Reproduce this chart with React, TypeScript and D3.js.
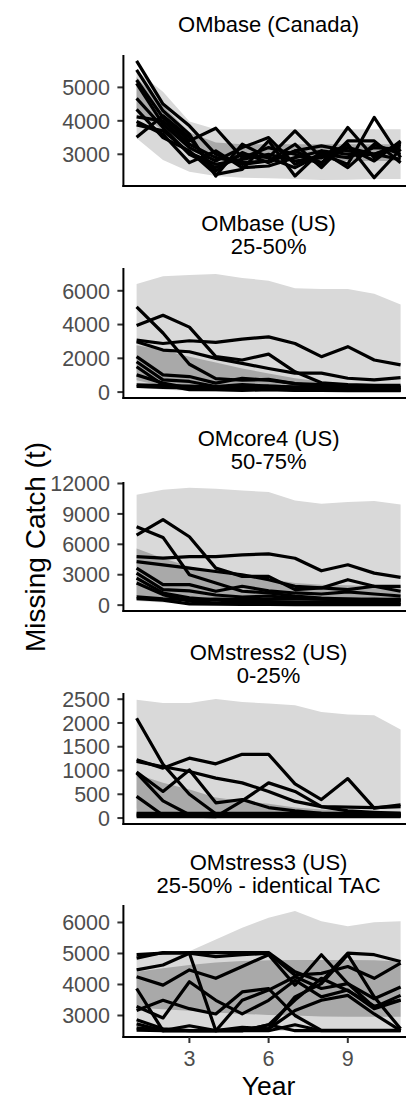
import React from 'react';
import * as d3 from 'd3';

const years = [1, 2, 3, 4, 5, 6, 7, 8, 9, 10, 11];

const titles = [
  ['OMbase (Canada)'],
  ['OMbase (US)', '25-50%'],
  ['OMcore4 (US)', '50-75%'],
  ['OMstress2 (US)', '0-25%'],
  ['OMstress3 (US)', '25-50% - identical TAC'],
];

const yTicks = [
  [3000, 4000, 5000],
  [0, 2000, 4000, 6000],
  [0, 3000, 6000, 9000, 12000],
  [0, 500, 1000, 1500, 2000, 2500],
  [3000, 4000, 5000, 6000],
];

const xTicks = [3, 6, 9];

// OMbase (Canada)
const canOuterHi = [5500, 4870, 3980, 3750, 3750, 3750, 3750, 3750, 3750, 3750, 3750];
const canOuterLo = [3480, 2830, 2480, 2350, 2300, 2280, 2260, 2230, 2240, 2260, 2260];
const canInnerHi = [5300, 4450, 3650, 3350, 3300, 3300, 3300, 3300, 3300, 3300, 3300];
const canInnerLo = [4300, 3700, 3100, 2850, 2800, 2800, 2800, 2800, 2800, 2800, 2800];
const canLines = [
  [5790, 4500, 3850, 3000, 2700, 2800, 3100, 2750, 3200, 3000, 3300],
  [5520, 4300, 3600, 2350, 3300, 2900, 2600, 3000, 2900, 3200, 3150],
  [5220, 4100, 3400, 3780, 2900, 3200, 3000, 2700, 3800, 2900, 3350],
  [5120, 3900, 3200, 2800, 3200, 3500, 2700, 3000, 2700, 4100, 2900],
  [4670, 3800, 3000, 2600, 3000, 2900, 3700, 2900, 3300, 2300, 3150],
  [4340, 3500, 3100, 2400, 2550, 3400, 2350, 3100, 2600, 3300, 3000],
  [4120, 4000, 3300, 2900, 2750, 2800, 3300, 2600, 3400, 3400, 2750],
  [3980, 3600, 2750, 3100, 2600, 2650, 2900, 3100, 3000, 3000, 3250],
  [3880, 3700, 3050, 2700, 2850, 3000, 2800, 2900, 3200, 2800, 3400],
  [3510, 4150, 3500, 2500, 3050, 2750, 3100, 3250, 3100, 3000, 2850],
];

// OMbase (US)
const usOuterHi = [6400, 6860, 6940, 7000, 6760, 6600, 6150, 6110, 6110, 5820, 5190];
const usOuterLo = [250, 150, 60, 20, 0, 0, 0, 0, 0, 0, 0];
const usInnerHi = [2780, 2500, 2100, 1750, 1400, 1100, 820, 630, 500, 420, 380];
const usInnerLo = [700, 350, 200, 150, 120, 100, 100, 80, 80, 80, 80];
const usLines = [
  [5050, 3500, 1650, 800, 700, 750, 500, 300, 250, 250, 300],
  [3950, 4550, 3850, 2100, 1900, 2250, 1200, 550, 450, 400, 400],
  [3080, 2880, 3040, 2940, 3140, 3270, 2880, 2100, 2690, 1900, 1610],
  [2980, 2490, 2390, 2000, 1700, 1400, 1120, 1120, 820, 720, 860],
  [2100, 1020, 920, 530, 820, 700, 500, 450, 350, 300, 250],
  [1800, 720, 630, 330, 450, 350, 300, 250, 200, 200, 150],
  [1500, 430, 140, 150, 100, 150, 100, 100, 80, 100, 80],
  [1020, 530, 240, 200, 250, 200, 150, 100, 100, 100, 100],
  [430, 390, 350, 300, 300, 350, 300, 280, 300, 280, 300],
  [330, 280, 250, 200, 200, 180, 150, 150, 150, 120, 120],
];

// OMcore4 (US)
const coreOuterHi = [10900, 11380, 11570, 11480, 11310, 11150, 10330, 10000, 10170, 10270, 9940];
const coreOuterLo = [400, 250, 100, 50, 0, 0, 0, 0, 0, 0, 0];
const coreInnerHi = [5600, 4630, 3810, 3300, 2900, 2600, 2180, 2020, 1950, 1900, 1860];
const coreInnerLo = [900, 600, 350, 250, 200, 200, 150, 150, 150, 150, 150];
const coreLines = [
  [7730, 6680, 3000, 2180, 1370, 1200, 900, 700, 600, 550, 500],
  [6910, 8440, 6750, 3650, 2840, 2840, 1530, 1700, 2510, 1860, 1370],
  [4790, 4630, 4790, 4790, 4960, 5050, 4630, 3390, 3980, 3160, 2740],
  [4300, 3980, 3650, 3320, 3000, 2510, 1860, 1700, 1530, 1860, 1860],
  [3650, 2020, 2020, 1370, 1860, 1400, 1200, 1100, 1300, 1100, 900],
  [3160, 1530, 1400, 1000, 800, 900, 700, 600, 500, 600, 500],
  [2670, 1200, 720, 500, 400, 350, 300, 300, 250, 250, 250],
  [2180, 1040, 390, 200, 150, 150, 100, 100, 100, 100, 100],
  [815, 620, 550, 600, 550, 600, 650, 600, 600, 550, 600],
  [650, 490, 130, 100, 80, 80, 50, 50, 50, 50, 50],
];

// OMstress2 (US)
const s2OuterHi = [2490, 2420, 2420, 2505, 2440, 2410, 2370, 2230, 2180, 2160, 1860];
const s2OuterLo = [200, 120, 80, 60, 50, 40, 30, 20, 10, 0, 0];
const s2InnerHi = [920, 740, 600, 430, 360, 300, 220, 180, 150, 140, 140];
const s2InnerLo = [80, 60, 50, 40, 30, 30, 20, 20, 10, 10, 10];
const s2Lines = [
  [2100, 1130, 500, 90, 60, 60, 60, 60, 60, 60, 60],
  [1225, 1050, 1260, 1140, 1340, 1340, 720, 390, 830, 210, 280],
  [1190, 1080, 980, 840, 740, 560, 350, 240, 230, 220, 240],
  [970, 560, 1010, 320, 390, 220, 150, 100, 80, 80, 80],
  [950, 360, 70, 50, 50, 50, 50, 50, 50, 50, 50],
  [455, 60, 40, 40, 40, 40, 40, 40, 40, 40, 40],
  [60, 50, 40, 30, 360, 740, 560, 240, 150, 120, 100],
  [100, 100, 100, 100, 100, 100, 100, 100, 100, 100, 100],
  [30, 30, 30, 30, 30, 30, 30, 30, 30, 30, 30],
];

// OMstress3 (US)
const s3OuterHi = [4960, 5010, 5070, 5450, 5830, 6150, 6370, 6040, 5880, 6010, 6040];
const s3OuterLo = [2500, 2500, 2500, 2500, 2500, 2500, 2500, 2500, 2500, 2500, 2500];
const s3InnerHi = [4410, 4520, 4630, 4710, 4760, 4780, 4790, 4790, 4790, 4780, 4740];
const s3InnerLo = [3250, 3200, 3150, 3100, 3050, 3020, 3000, 2970, 2960, 2960, 2960];
const s3Lines = [
  [4960, 5010, 5030, 5030, 5030, 5030, 4410, 4090, 5010, 4960, 4740],
  [4850, 5030, 5010, 4900, 4960, 5010, 4300, 4360, 4580, 4200, 4690],
  [4470, 4630, 5010, 2510, 2510, 2700, 3500, 4200, 3800, 3300, 3500],
  [4250, 3980, 4470, 4200, 4580, 4960, 3980, 4960, 4030, 3270, 3650],
  [3870, 2510, 2510, 2510, 2510, 2510, 2700, 2510, 2510, 2510, 2510],
  [3290, 2920, 4090, 3490, 3050, 3490, 4140, 3600, 3820, 3220, 3490],
  [3160, 3490, 3220, 3050, 3760, 3870, 3000, 2520, 2520, 2520, 2520],
  [2860, 2570, 2510, 2510, 3490, 3820, 4250, 3870, 4030, 3540, 3920],
  [2730, 2510, 2670, 2510, 2620, 2570, 3600, 4030, 4960, 3600, 2570],
  [2600, 2510, 2510, 2510, 2570, 2570, 3160, 3490, 3650, 3050, 2510],
  [2530, 2510, 2510, 2510, 2510, 2700, 2510, 2510, 2510, 2510, 2510],
];

const panels = [
  { outerHi: canOuterHi, outerLo: canOuterLo, innerHi: canInnerHi, innerLo: canInnerLo, lines: canLines },
  { outerHi: usOuterHi, outerLo: usOuterLo, innerHi: usInnerHi, innerLo: usInnerLo, lines: usLines },
  { outerHi: coreOuterHi, outerLo: coreOuterLo, innerHi: coreInnerHi, innerLo: coreInnerLo, lines: coreLines },
  { outerHi: s2OuterHi, outerLo: s2OuterLo, innerHi: s2InnerHi, innerLo: s2InnerLo, lines: s2Lines },
  { outerHi: s3OuterHi, outerLo: s3OuterLo, innerHi: s3InnerHi, innerLo: s3InnerLo, lines: s3Lines },
];

// layout
const W = 406;
const H = 1100;
const plotLeft = 123.4;
const plotRight = 413.8;
const boxes = [
  [55, 186],
  [268, 398],
  [482, 611],
  [693, 824],
  [905, 1037],
];
const titleBase = [[31.5], [230.5, 253.5], [445.5, 468.5], [659.5, 682.5], [869.5, 892.5]];
const font = '"Liberation Sans", Arial, Helvetica, sans-serif';

const x = d3.scaleLinear().domain([0.5, 11.5]).range([plotLeft, plotRight]);

function Panel({ idx }: { idx: number }) {
  const p = panels[idx];
  const [top, bottom] = boxes[idx];
  const all = [...p.outerHi, ...p.outerLo, ...p.innerHi, ...p.innerLo, ...p.lines.flat()];
  const lo = d3.min(all) as number;
  const hi = d3.max(all) as number;
  const pad = (hi - lo) * 0.05;
  const y = d3.scaleLinear().domain([lo - pad, hi + pad]).range([bottom, top]);

  const area = (hiArr: number[], loArr: number[]) =>
    d3
      .area<number>()
      .x(d => x(d))
      .y0((_, i) => y(loArr[i]))
      .y1((_, i) => y(hiArr[i]))(years) as string;

  const line = d3
    .line<number>()
    .x((_, i) => x(years[i]))
    .y(d => y(d));

  const isLast = idx === panels.length - 1;
  const cx = (plotLeft + plotRight) / 2;

  return (
    <g>
      <clipPath id={`clip${idx}`}>
        <rect x={plotLeft} y={top} width={plotRight - plotLeft} height={bottom - top} />
      </clipPath>
      {titles[idx].map((t, i) => (
        <text key={t} x={cx} y={titleBase[idx][i]} textAnchor="middle" fontSize={22} fill="#000">
          {t}
        </text>
      ))}
      <g clipPath={`url(#clip${idx})`}>
        <path d={area(p.outerHi, p.outerLo)} fill="#d9d9d9" />
        <path d={area(p.innerHi, p.innerLo)} fill="#a9a9a9" />
        {p.lines.map((s, i) => (
          <path
            key={i}
            d={line(s) as string}
            fill="none"
            stroke="#000"
            strokeWidth={3.2}
            strokeLinejoin="round"
            strokeLinecap="butt"
          />
        ))}
      </g>
      {/* y axis */}
      {yTicks[idx].map(t => (
        <g key={t}>
          <line x1={plotLeft - 6} x2={plotLeft} y1={y(t)} y2={y(t)} stroke="#333" strokeWidth={2} />
          <text x={110} y={y(t)} dy="0.36em" textAnchor="end" fontSize={21.5} fill="#4d4d4d">
            {t}
          </text>
        </g>
      ))}
      <line x1={plotLeft} x2={plotLeft} y1={top} y2={bottom + 1} stroke="#000" strokeWidth={2} />
      <line x1={plotLeft - 1} x2={plotRight} y1={bottom} y2={bottom} stroke="#000" strokeWidth={2} />
      {isLast &&
        xTicks.map(t => (
          <g key={t}>
            <line x1={x(t)} x2={x(t)} y1={bottom} y2={bottom + 6} stroke="#333" strokeWidth={2} />
            <text x={x(t)} y={bottom + 29} textAnchor="middle" fontSize={21.5} fill="#4d4d4d">
              {t}
            </text>
          </g>
        ))}
    </g>
  );
}

export default function App() {
  return (
    <svg
      width={W}
      height={H}
      viewBox={`0 0 ${W} ${H}`}
      style={{ position: 'absolute', left: 0, top: 0, background: '#fff', fontFamily: font }}
    >
      <rect width={W} height={H} fill="#fff" />
      {panels.map((_, i) => (
        <Panel key={i} idx={i} />
      ))}
      <text
        x={45}
        y={547}
        transform="rotate(-90, 45, 547)"
        textAnchor="middle"
        fontSize={28}
        fill="#000"
      >
        Missing Catch (t)
      </text>
      <text x={(plotLeft + plotRight) / 2} y={1094.5} textAnchor="middle" fontSize={26.5} fill="#000">
        Year
      </text>
    </svg>
  );
}
